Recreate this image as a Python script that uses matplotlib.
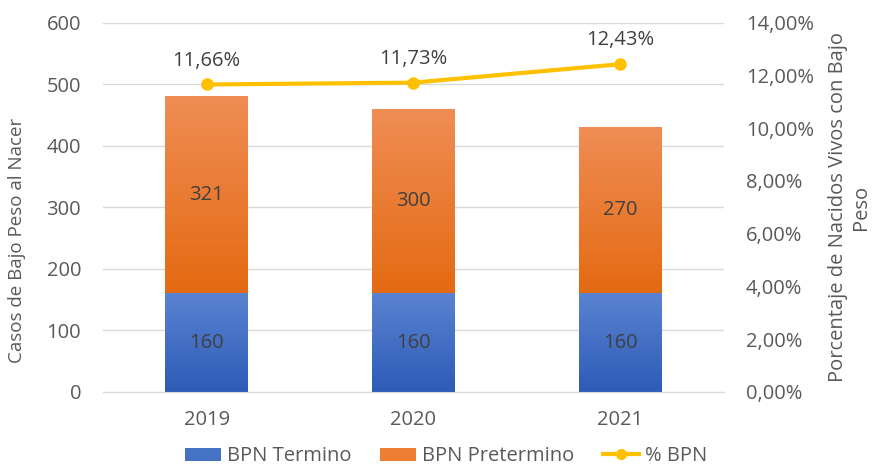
import numpy as np
import matplotlib
matplotlib.use("Agg")
import matplotlib.pyplot as plt
from matplotlib.colors import LinearSegmentedColormap
from matplotlib.lines import Line2D
from matplotlib.patches import Patch

years = ["2019", "2020", "2021"]
bpn_termino = [160, 160, 160]
bpn_pretermino = [321, 300, 270]
pct_bpn = [11.66, 11.73, 12.43]

plt.rcParams['font.family'] = ['Open Sans', 'DejaVu Sans']
gris = "#595959"
fs = 14.5

fig = plt.figure(figsize=(8.75, 4.75), dpi=100)
ax = fig.add_axes([0.118, 0.175, 0.709, 0.777])
ax2 = ax.twinx()

x = np.arange(len(years))
b1 = ax.bar(x, bpn_termino, width=0.4, color="none", zorder=2)
b2 = ax.bar(x, bpn_pretermino, width=0.4, bottom=bpn_termino, color="none", zorder=2)

# degradado tipo Excel dentro de cada barra
azul = LinearSegmentedColormap.from_list("azul", ["#2D5BB7", "#5A83D1"])
naranja = LinearSegmentedColormap.from_list("naranja", ["#E46A12", "#F08D55"])
grad = np.linspace(0, 1, 256).reshape(-1, 1)
for barras, cmap in ((b1, azul), (b2, naranja)):
    for p in barras:
        x0, y0 = p.get_x(), p.get_y()
        im = ax.imshow(grad, cmap=cmap, origin="lower", aspect="auto",
                       extent=[x0, x0 + p.get_width(), y0, y0 + p.get_height()], zorder=2)
        im.set_clip_path(p)

for i in x:
    ax.text(i, bpn_termino[i] / 2, str(bpn_termino[i]), ha="center", va="center",
            fontsize=fs, color="#404040", zorder=4)
    ax.text(i, bpn_termino[i] + bpn_pretermino[i] / 2, str(bpn_pretermino[i]),
            ha="center", va="center", fontsize=fs, color="#404040", zorder=4)

ax.set_xlim(-0.5, 2.5)
ax.set_ylim(0, 600)
ax.set_yticks(range(0, 601, 100))
ax.set_xticks(x)
ax.set_xticklabels(years)
ax.grid(axis="y", color="#D9D9D9", linewidth=1, zorder=0)
ax.set_axisbelow(True)
for s in ["top", "left", "right"]:
    ax.spines[s].set_visible(False)
ax.spines["bottom"].set_color("#D9D9D9")
ax.tick_params(axis="both", length=0, labelsize=fs, labelcolor=gris)
ax.tick_params(axis="y", pad=16)
ax.tick_params(axis="x", pad=13)
ax.set_ylabel("Casos de Bajo Peso al Nacer", fontsize=13.5, color=gris)
ax.yaxis.set_label_coords(-0.124, 0.41)

ax2.plot(x, pct_bpn, color="#FFC000", linewidth=3, marker="o", markersize=8, zorder=5)
for i in x:
    ax2.annotate(f"{pct_bpn[i]:.2f}%".replace(".", ","), (i, pct_bpn[i]),
                 xytext=(0, 10), textcoords="offset points", ha="center", va="bottom",
                 fontsize=fs, color="#404040")
ax2.set_ylim(0, 14)
ax2.set_yticks(range(0, 15, 2))
ax2.set_yticklabels([f"{v},00%" for v in range(0, 15, 2)])
for s in ax2.spines.values():
    s.set_visible(False)
ax2.tick_params(axis="y", length=0, labelsize=fs, labelcolor=gris, pad=16)
ax2.set_ylabel("Porcentaje de Nacidos Vivos con Bajo\nPeso", fontsize=fs, color=gris,
               labelpad=10, linespacing=1.25)

handles = [Patch(facecolor="#4472C4"), Patch(facecolor="#ED7D31"),
           Line2D([], [], color="#FFC000", linewidth=3, marker="o", markersize=7)]
fig.legend(handles, ["BPN Termino", "BPN Pretermino", "% BPN"], loc="lower center",
           bbox_to_anchor=(0.51, -0.02), ncol=3, frameon=False, fontsize=fs,
           labelcolor=gris, handlelength=1.8, handleheight=0.65, columnspacing=1.4,
           handletextpad=0.3)

fig.savefig("out.png", dpi=100)
